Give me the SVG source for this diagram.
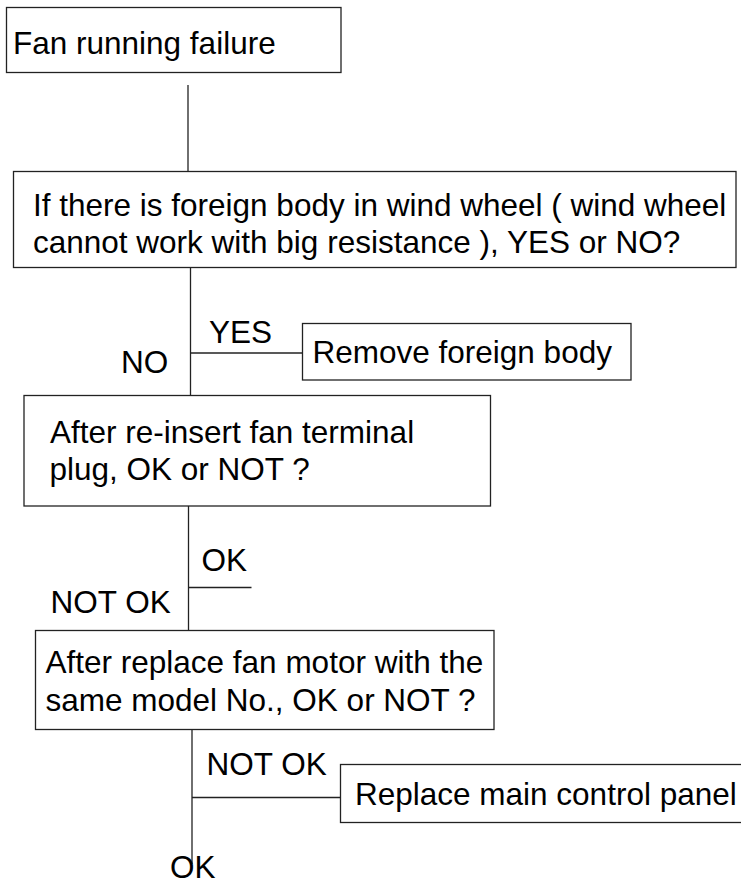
<svg xmlns="http://www.w3.org/2000/svg" width="741" height="886" viewBox="0 0 741 886">
<style>
.box{fill:#fff;stroke:#222;stroke-width:1.3}
.ln{stroke:#222;stroke-width:1.3;fill:none}
text{font-family:"Liberation Sans",Arial,sans-serif;font-size:31.5px;fill:#000}
</style>
<rect width="741" height="886" fill="#fff"/>
<g id="connectors">
<line class="ln" x1="188" y1="85" x2="188" y2="171"/>
<line class="ln" x1="190.5" y1="268" x2="190.5" y2="395"/>
<line class="ln" x1="190.5" y1="353" x2="302.5" y2="353"/>
<line class="ln" x1="188.5" y1="506" x2="188.5" y2="630"/>
<line class="ln" x1="188.5" y1="587.5" x2="251.5" y2="587.5"/>
<line class="ln" x1="192" y1="730" x2="192" y2="864"/>
<line class="ln" x1="192" y1="797.5" x2="340" y2="797.5"/>
<text x="121" y="373">NO</text>
<text x="209" y="343">YES</text>
<text x="201.5" y="570.5">OK</text>
<text x="50.5" y="612.5">NOT OK</text>
<text x="206.5" y="775">NOT OK</text>
<text x="170" y="878">OK</text>
</g>
<g id="n1">
<rect class="box" x="6.5" y="7.5" width="334.5" height="65"/>
<text x="13" y="54">Fan running failure</text>
</g>
<g id="n2">
<rect class="box" x="13.5" y="171.5" width="722.5" height="96"/>
<text x="33" y="216" font-size="31.8">If there is foreign body in wind wheel ( wind wheel</text>
<text x="33" y="253" font-size="31.8">cannot work with big resistance ), YES or NO?</text>
</g>
<g id="n3">
<rect class="box" x="302.5" y="323.5" width="328.5" height="56.5"/>
<text x="312.5" y="363">Remove foreign body</text>
</g>
<g id="n4">
<rect class="box" x="24" y="395.5" width="466.5" height="110.5"/>
<text x="50" y="442.5">After re-insert fan terminal</text>
<text x="49.5" y="480">plug, OK or NOT ?</text>
</g>
<g id="n5">
<rect class="box" x="35.5" y="630.5" width="458.5" height="99"/>
<text x="45.5" y="672.5">After replace fan motor with the</text>
<text x="45.5" y="710.5">same model No., OK or NOT ?</text>
</g>
<g id="n6">
<rect class="box" x="340.5" y="764.5" width="410" height="58"/>
<text x="355" y="805">Replace main control panel</text>
</g>
</svg>
